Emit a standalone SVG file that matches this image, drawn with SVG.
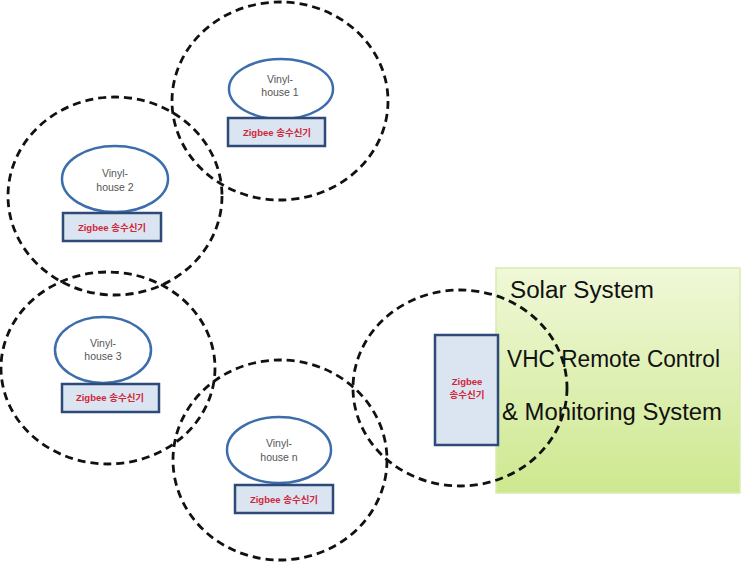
<svg xmlns="http://www.w3.org/2000/svg" width="748" height="575" viewBox="0 0 748 575">
<defs>
<linearGradient id="gr" x1="0" y1="0" x2="0" y2="1">
<stop offset="0" stop-color="#f0f8d8"/>
<stop offset="1" stop-color="#cde88f"/>
</linearGradient>
<style>
.house{fill:#fff;stroke:#3d6eab;stroke-width:2.5}
.zb{fill:#dbe5f1;stroke:#2e4a78;stroke-width:2.5}
.vt{font-family:"Liberation Sans","Noto Sans CJK KR",sans-serif;font-size:10.5px;fill:#555;text-anchor:middle}
.zt{font-family:"Liberation Sans","Noto Sans CJK KR",sans-serif;font-size:9.5px;font-weight:bold;fill:#d0263a;text-anchor:middle}
.st{font-family:"Liberation Sans","Noto Sans CJK KR",sans-serif;font-size:23px;fill:#111}
.range{fill:none;stroke:#111;stroke-width:2.8;stroke-dasharray:8 5}
</style>
</defs>
<rect width="748" height="575" fill="#fff"/>
<g id="solar-system">
<rect x="496" y="268" width="244" height="225" fill="url(#gr)" stroke="#d9ecb0" stroke-width="1.5"/>
<text class="st" x="510" y="298" textLength="144" lengthAdjust="spacingAndGlyphs">Solar System</text>
<text class="st" x="507" y="367" textLength="213" lengthAdjust="spacingAndGlyphs">VHC Remote Control</text>
<text class="st" x="502" y="420" textLength="220" lengthAdjust="spacingAndGlyphs">&amp; Monitoring System</text>
</g>
<g id="zigbee-base">
<rect class="zb" x="435" y="335" width="63" height="110"/>
<text class="zt" x="467" y="385">Zigbee</text>
<text class="zt" x="467" y="398">송수신기</text>
</g>
<g id="house-1">
<ellipse class="house" cx="281" cy="89" rx="52" ry="30"/>
<text class="vt" x="280" y="83">Vinyl-</text>
<text class="vt" x="280" y="96">house 1</text>
<rect class="zb" x="228" y="118" width="97" height="28"/>
<text class="zt" x="277" y="136">Zigbee 송수신기</text>
</g>
<g id="house-2">
<ellipse class="house" cx="115" cy="179" rx="53" ry="33"/>
<text class="vt" x="115" y="177">Vinyl-</text>
<text class="vt" x="115" y="191">house 2</text>
<rect class="zb" x="63" y="213" width="98" height="28"/>
<text class="zt" x="112" y="231">Zigbee 송수신기</text>
</g>
<g id="house-3">
<ellipse class="house" cx="103" cy="350" rx="48" ry="33"/>
<text class="vt" x="103" y="347">Vinyl-</text>
<text class="vt" x="103" y="360">house 3</text>
<rect class="zb" x="62" y="384" width="97" height="28"/>
<text class="zt" x="110" y="401">Zigbee 송수신기</text>
</g>
<g id="house-n">
<ellipse class="house" cx="279" cy="450" rx="52" ry="33"/>
<text class="vt" x="279" y="447">Vinyl-</text>
<text class="vt" x="279" y="461">house n</text>
<rect class="zb" x="235" y="485" width="98" height="28"/>
<text class="zt" x="284" y="503">Zigbee 송수신기</text>
</g>
<g id="connectors">
<ellipse class="range" cx="280" cy="101" rx="108" ry="99"/>
<ellipse class="range" cx="115" cy="196" rx="107" ry="99"/>
<ellipse class="range" cx="108" cy="368" rx="107" ry="96"/>
<ellipse class="range" cx="280" cy="460" rx="107" ry="100"/>
<ellipse class="range" cx="460" cy="388" rx="107" ry="98"/>
</g>
</svg>
